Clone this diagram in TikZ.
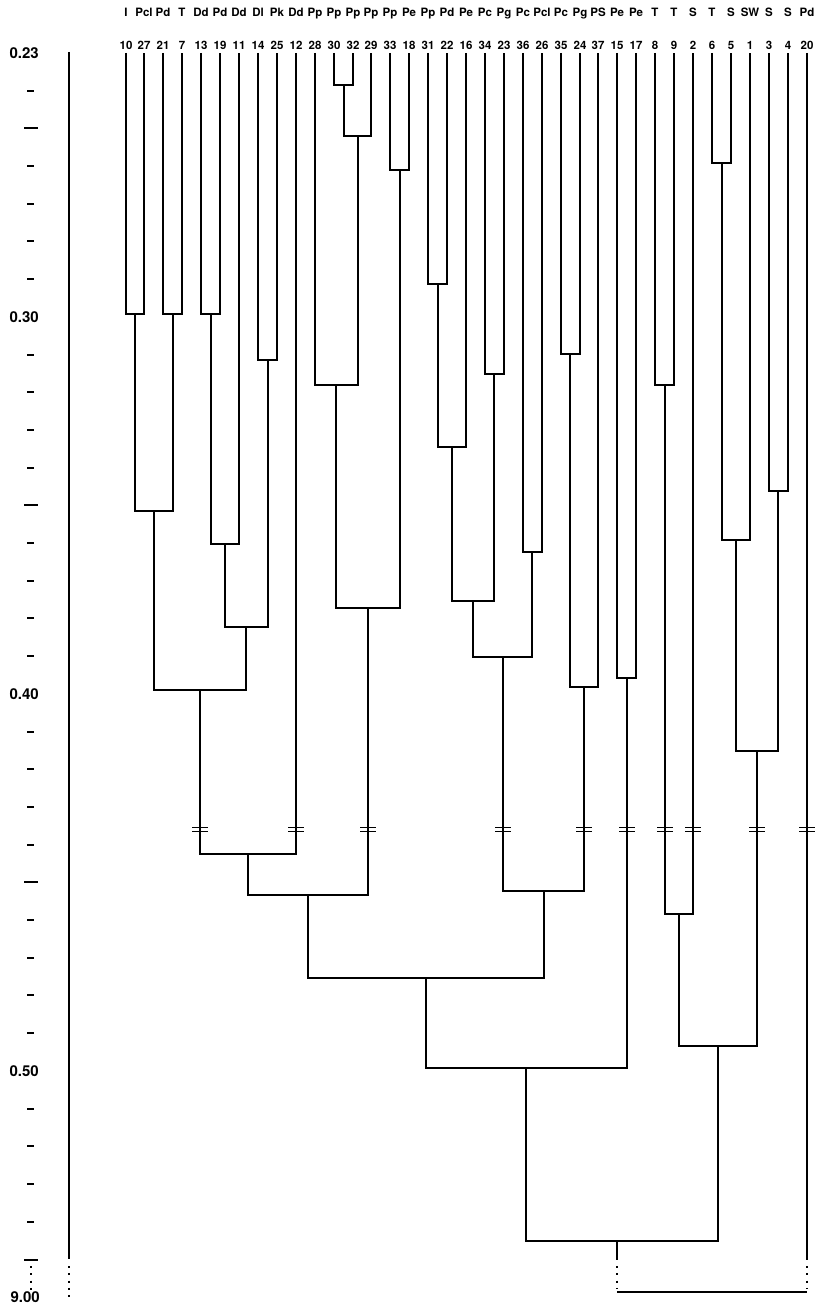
\documentclass[tikz,border=0pt]{standalone}
\usepackage{fontspec}
\setmainfont{TeX Gyre Heros}
\begin{document}
\begin{tikzpicture}[x=1pt,y=-1pt,
  br/.style={line width=2pt, black},
  axisline/.style={line width=2pt, black},
  tickmark/.style={line width=2pt, black},
  dotline/.style={line width=2pt, black, dash pattern=on 2pt off 5.3pt},
  brk/.style={line width=1.2pt, black},
  sp/.style={anchor=base, inner sep=0pt, font=\fontsize{11.5}{13}\selectfont\bfseries},
  num/.style={anchor=base, inner sep=0pt, font=\fontsize{11.5}{13}\selectfont\bfseries},
  axlab/.style={anchor=east, inner sep=0pt, font=\fontsize{15}{17}\selectfont\bfseries}]
\fill[white] (0,0) rectangle (819,1306);
\useasboundingbox (0,0) rectangle (819,1306);

% ---- axis ----
\coordinate (ax0) at (69,52);
\coordinate (ax1) at (69,1259);
\coordinate (ax2) at (69,1266);
\coordinate (ax3) at (69,1297);
\draw[axisline] (ax0) -- (ax1);
\draw[dotline] (ax2) -- (ax3);
\foreach \k in {1,...,31}{
  \pgfmathsetmacro{\yy}{round(53+37.7*\k)}
  \ifnum\k=7 \else\ifnum\k=17 \else\ifnum\k=27 \else
    \ifnum\k=2 \draw[tickmark] (24,\yy) -- (37.5,\yy);
    \else\ifnum\k=12 \draw[tickmark] (24,\yy) -- (37.5,\yy);
    \else\ifnum\k=22 \draw[tickmark] (24,\yy) -- (37.5,\yy);
    \else \draw[tickmark] (27.3,\yy) -- (34.3,\yy);
    \fi\fi\fi
  \fi\fi\fi
}
\draw[tickmark] (24,1260) -- (38,1260);
\draw[dotline] (31,1266) -- (31,1290);
\node[axlab] (v23) at (39,53) {0.23};
\node[axlab] (v30) at (39,316.9) {0.30};
\node[axlab] (v40) at (39,693.9) {0.40};
\node[axlab] (v50) at (39,1070.9) {0.50};
\node[axlab] (v900) at (40,1297.5) {9.00};

% ---- leaves ----
\foreach \n/\s [count=\i from 0] in {10/I,27/Pcl,21/Pd,7/T,13/Dd,19/Pd,11/Dd,14/Dl,25/Pk,12/Dd,
  28/Pp,30/Pp,32/Pp,29/Pp,33/Pp,18/Pe,31/Pp,22/Pd,16/Pe,34/Pc,23/Pg,36/Pc,26/Pcl,35/Pc,24/Pg,
  37/PS,15/Pe,17/Pe,8/T,9/T,2/S,6/T,5/S,1/SW,3/S,4/S,20/Pd}{
  \pgfmathsetmacro{\xx}{round(125.5+18.92*\i)}
  \node[sp] (s\n) at (\xx,16.7) {\s};
  \node[num] (n\n) at (\xx,50) {\n};
  \coordinate (l\n) at (\xx,53);
}

% ---- clusters ----
\coordinate (A1) at (135,314);
\coordinate (A2) at (173,314);
\coordinate (A3) at (211,314);
\coordinate (A4) at (268,360);
\coordinate (B1) at (344,85);
\coordinate (B2) at (358,136);
\coordinate (B3) at (400,170);
\coordinate (B4) at (336,385);
\coordinate (A5) at (154,511);
\coordinate (A6) at (225,544);
\coordinate (A7) at (246,627);
\coordinate (B5) at (368,608);
\coordinate (A8) at (200,690);
\coordinate (A9) at (248,854);
\coordinate (A10) at (308,895);
\coordinate (C1) at (438,284);
\coordinate (C2) at (452,447);
\coordinate (C3) at (494,374);
\coordinate (C4) at (473,601);
\coordinate (C5) at (532,552);
\coordinate (C6) at (503,657);
\coordinate (C7) at (570,354);
\coordinate (C8) at (584,687);
\coordinate (C9) at (544,891);
\coordinate (D1) at (627,678);
\coordinate (E) at (426,978);
\coordinate (F) at (526,1068);
\coordinate (G1) at (665,385);
\coordinate (G2) at (679,914);
\coordinate (H1) at (722,163);
\coordinate (H2) at (736,540);
\coordinate (H3) at (778,491);
\coordinate (H4) at (757,751);
\coordinate (I) at (718,1046);
\coordinate (J) at (617,1241);

\draw[br] (l10) |- (A1) -| (l27);
\draw[br] (l21) |- (A2) -| (l7);
\draw[br] (l13) |- (A3) -| (l19);
\draw[br] (l14) |- (A4) -| (l25);
\draw[br] (l30) |- (B1) -| (l32);
\draw[br] (B1) |- (B2) -| (l29);
\draw[br] (l33) |- (B3) -| (l18);
\draw[br] (l28) |- (B4) -| (B2);
\draw[br] (A1) |- (A5) -| (A2);
\draw[br] (A3) |- (A6) -| (l11);
\draw[br] (A6) |- (A7) -| (A4);
\draw[br] (B4) |- (B5) -| (B3);
\draw[br] (A5) |- (A8) -| (A7);
\draw[br] (A8) |- (A9) -| (l12);
\draw[br] (A9) |- (A10) -| (B5);
\draw[br] (l31) |- (C1) -| (l22);
\draw[br] (C1) |- (C2) -| (l16);
\draw[br] (l34) |- (C3) -| (l23);
\draw[br] (C2) |- (C4) -| (C3);
\draw[br] (l36) |- (C5) -| (l26);
\draw[br] (C4) |- (C6) -| (C5);
\draw[br] (l35) |- (C7) -| (l24);
\draw[br] (C7) |- (C8) -| (l37);
\draw[br] (C6) |- (C9) -| (C8);
\draw[br] (l15) |- (D1) -| (l17);
\draw[br] (A10) |- (E) -| (C9);
\draw[br] (E) |- (F) -| (D1);
\draw[br] (l8) |- (G1) -| (l9);
\draw[br] (G1) |- (G2) -| (l2);
\draw[br] (l6) |- (H1) -| (l5);
\draw[br] (H1) |- (H2) -| (l1);
\draw[br] (l3) |- (H3) -| (l4);
\draw[br] (H2) |- (H4) -| (H3);
\draw[br] (G2) |- (I) -| (H4);
\draw[br] (F) |- (J) -| (I);

% ---- root (broken scale) ----
\coordinate (Js) at (617,1260);
\coordinate (Jd) at (617,1266);
\coordinate (Jb) at (617,1292);
\coordinate (Ts) at (807,1260);
\coordinate (Td) at (807,1266);
\coordinate (Tb) at (807,1292);
\draw[br] (J) -- (Js);
\draw[br] (l20) -- (Ts);
\draw[dotline] (Jd) -- (617,1289);
\draw[dotline] (Td) -- (807,1289);
\draw[br] (Jb) -- (Tb);

% ---- break marks ----
\foreach \xx in {200,296,368,503,584,627,665,693,757,807}{
  \draw[brk] (\xx-8,827.5) -- (\xx+8,827.5);
  \draw[brk] (\xx-8,831.5) -- (\xx+8,831.5);
}
\end{tikzpicture}
\end{document}
